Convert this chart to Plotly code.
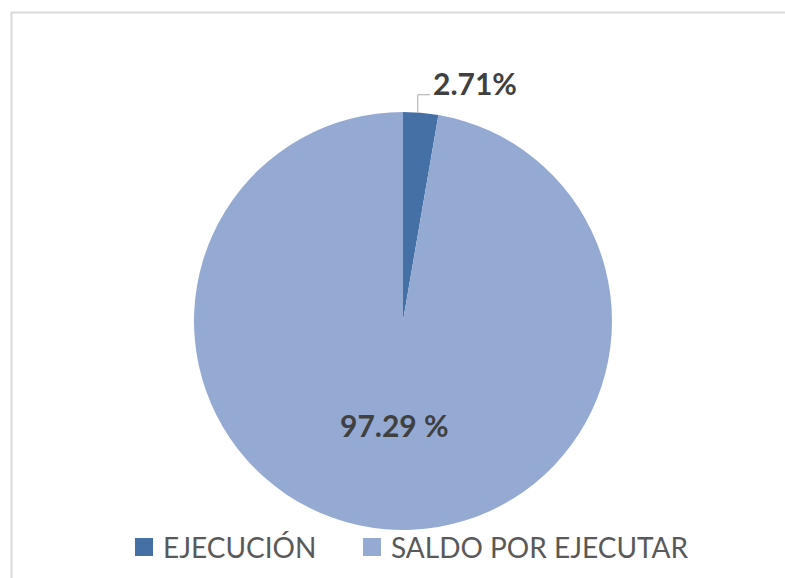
import math
import plotly.graph_objects as go

labels = ["EJECUCIÓN", "SALDO POR EJECUTAR"]
values = [2.71, 97.29]
colors = ["#4470A6", "#95AAD2"]
label_texts = ["2.71%", "97.29 %"]

W, H = 785, 578
cx, cy, r = 403, 321, 209  # pixel geometry of the pie

dom_x = [(cx - r) / W, (cx + r) / W]
dom_y = [(H - cy - r) / H, (H - cy + r) / H]

fig = go.Figure(go.Pie(
    labels=labels, values=values, sort=False, direction="clockwise", rotation=0,
    marker=dict(colors=colors, line=dict(width=0)),
    textinfo="none", hoverinfo="label+percent",
    domain=dict(x=dom_x, y=dom_y), showlegend=False,
))

def px2paper(x, y):
    return x / W, 1 - y / H

# leader line for small slice
total = sum(values)
mid_frac = values[0] / 2 / total
ang = 2 * math.pi * mid_frac
ex, ey = cx + r * math.sin(ang) - 3, cy - r * math.cos(ang)
p1 = px2paper(ex, ey)
p2 = px2paper(ex, ey - 18)
p3 = px2paper(ex + 12, ey - 18)
fig.add_shape(type="path", xref="paper", yref="paper",
              path=f"M {p1[0]},{p1[1]} L {p2[0]},{p2[1]} L {p3[0]},{p3[1]}",
              line=dict(color="#A6A6A6", width=1))
lx, ly = px2paper(ex + 13, ey - 30)
fig.add_annotation(x=lx, y=ly, xref="paper", yref="paper", text=f"<b>{label_texts[0]}</b>",
                   showarrow=False, xanchor="left", yanchor="middle",
                   font=dict(family="Lato", size=30, color="#404040"))
bx, by = px2paper(394, 425)
fig.add_annotation(x=bx, y=by, xref="paper", yref="paper", text=f"<b>{label_texts[1]}</b>",
                   showarrow=False, xanchor="center", yanchor="middle",
                   font=dict(family="Lato", size=30, color="#404040"))

# legend (squares + labels)
legend_x = [135, 363]
legend_y = 547
sq = 18
for lab, col, x0 in zip(labels, colors, legend_x):
    a = px2paper(x0, legend_y - sq / 2)
    b = px2paper(x0 + sq, legend_y + sq / 2)
    fig.add_shape(type="rect", xref="paper", yref="paper", x0=a[0], x1=b[0], y0=b[1], y1=a[1],
                  line=dict(width=0), fillcolor=col)
    t = px2paper(x0 + sq + 8, legend_y)
    fig.add_annotation(x=t[0], y=t[1], xref="paper", yref="paper", text=lab,
                       showarrow=False, xanchor="left", yanchor="middle",
                       font=dict(family="Lato", size=28, color="#595959"))

# chart border
fig.add_shape(type="rect", xref="paper", yref="paper",
              x0=11.5 / W, x1=1.05, y0=-0.05, y1=1 - 12.5 / H,
              line=dict(color="#D9D9D9", width=2), fillcolor="rgba(0,0,0,0)")

fig.update_layout(
    width=W, height=H, margin=dict(l=0, r=0, t=0, b=0),
    paper_bgcolor="white", plot_bgcolor="white",
    showlegend=False,
)
fig.write_html("out.html")
